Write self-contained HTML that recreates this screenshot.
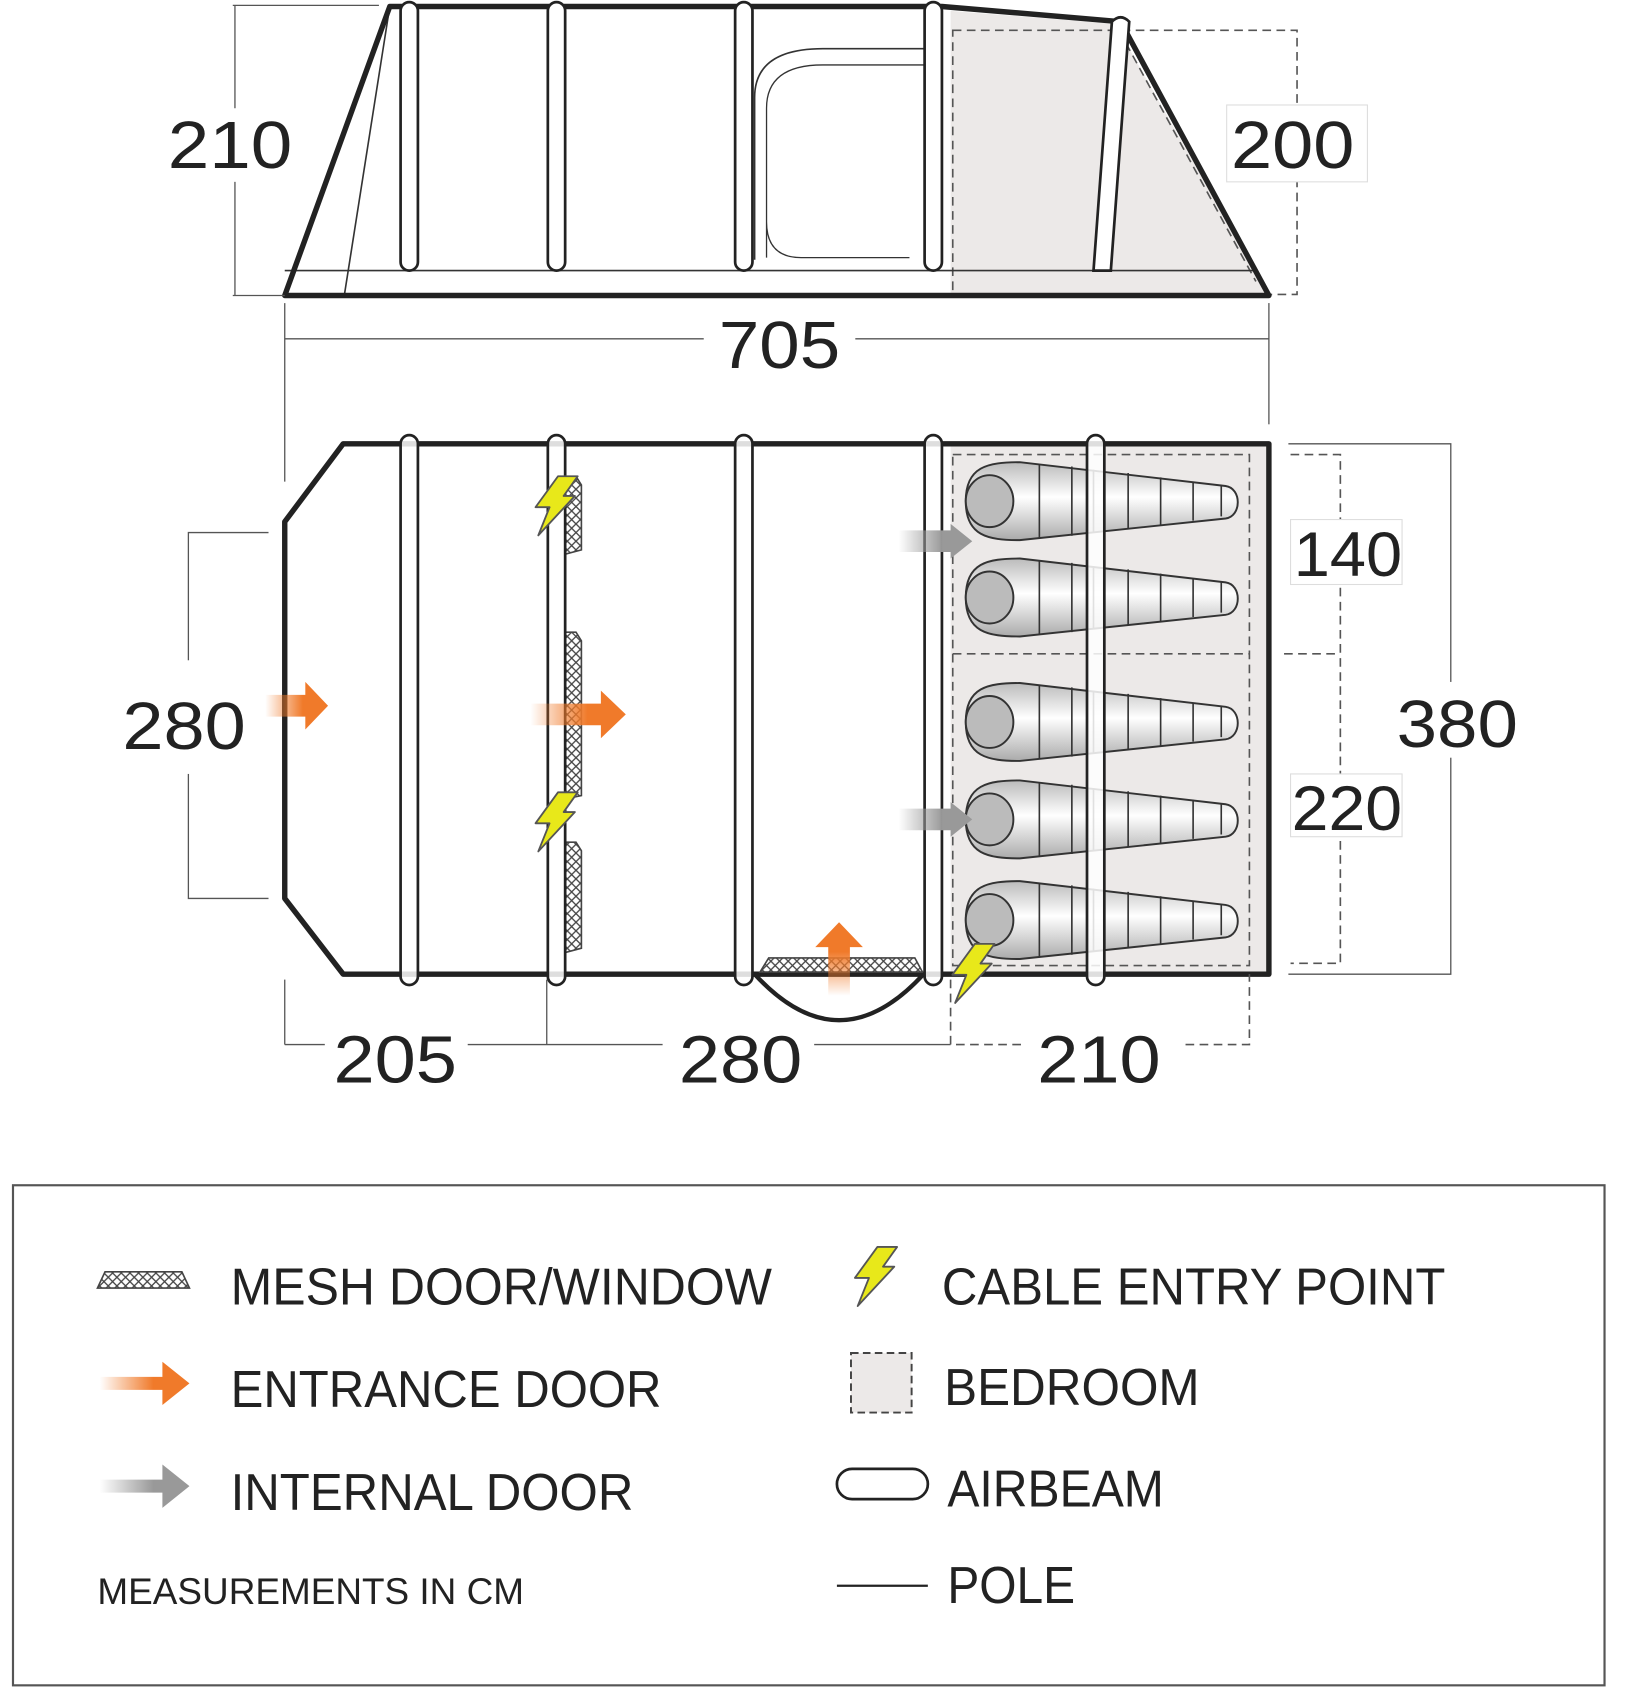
<!DOCTYPE html>
<html><head><meta charset="utf-8"><style>
html,body{margin:0;padding:0;background:#fff}
svg{display:block}
text{font-family:"Liberation Sans",sans-serif;fill:#222}
</style></head><body>
<svg width="1650" height="1694" viewBox="0 0 1524 1565" preserveAspectRatio="none" xmlns="http://www.w3.org/2000/svg">
<defs>
<linearGradient id="og" x1="0" x2="1"><stop offset="0" stop-color="#f07a2a" stop-opacity="0"/><stop offset="0.6" stop-color="#f07a2a"/></linearGradient>
<linearGradient id="gg" x1="0" x2="1"><stop offset="0" stop-color="#999" stop-opacity="0"/><stop offset="0.6" stop-color="#999"/></linearGradient>
<linearGradient id="ogv" x1="0" y1="1" x2="0" y2="0"><stop offset="0" stop-color="#f07a2a" stop-opacity="0"/><stop offset="0.6" stop-color="#f07a2a"/></linearGradient>
<linearGradient id="bag" x1="0" y1="0" x2="0" y2="1"><stop offset="0" stop-color="#bbb"/><stop offset="0.45" stop-color="#fff"/><stop offset="1" stop-color="#aaa"/></linearGradient>
<pattern id="mesh" width="8" height="8" patternUnits="userSpaceOnUse"><rect width="8" height="8" fill="#fff"/><path d="M0 0L8 8M8 0L0 8" stroke="#444" stroke-width="1.2"/></pattern>
<g id="bolt"><path d="M8 0 L22 0 L12 14 L20 14 L-6 42 L2 22 L-8 22 Z" fill="#e8e81a" stroke="#555" stroke-width="1.3" stroke-linejoin="round" transform="scale(1.3)"/></g>
<g id="sb">
<path d="M0 0 C0 -32 20 -36 50 -36 L240 -14 C255 -12 255 14 240 16 L50 36 C20 36 0 32 0 0Z" fill="url(#bag)" stroke="#333" stroke-width="1.8"/>
<ellipse cx="22" cy="0" rx="22" ry="24" fill="#bbb" stroke="#333" stroke-width="1.8"/>
<path d="M68 -34V34M98 -32V32M118 -29V29M150 -26V26M180 -22V22M210 -18V18M236 -14V14" stroke="#333" stroke-width="1.5"/>
</g>
</defs>

<!-- SIDE VIEW -->
<polygon points="878,10 1030,22 1172,273 878,273" fill="#ece9e8"/>
<rect x="880" y="28" width="318" height="244" fill="none" stroke="#555" stroke-width="1.5" stroke-dasharray="8,5"/>
<line x1="1040" y1="40" x2="1160" y2="260" stroke="#555" stroke-width="1.5" stroke-dasharray="8,5"/>
<line x1="360" y1="6" x2="318" y2="273" stroke="#333" stroke-width="1.5"/>
<line x1="263" y1="250" x2="1160" y2="250" stroke="#333" stroke-width="1.5"/>
<path d="M697 240 V90 Q697 45 760 45 H853" fill="none" stroke="#333" stroke-width="1.5"/>
<path d="M708 238 V100 Q708 60 760 60 H853 M708 205 Q708 238 740 238 H840" fill="none" stroke="#333" stroke-width="1.2"/>
<polygon points="263,273 360,6 870,6 1035,20 1172,273" fill="none" stroke="#222" stroke-width="5" stroke-linejoin="round"/>
<g fill="#fff" stroke="#222" stroke-width="2.5">
<rect x="370" y="2" width="16" height="248" rx="8"/>
<rect x="506" y="2" width="16" height="248" rx="8"/>
<rect x="679" y="2" width="16" height="248" rx="8"/>
<rect x="854" y="2" width="16" height="248" rx="8"/>
<path d="M1027 20 Q1035 12 1043 20 L1026 250 L1010 250 Z"/>
</g>
<line x1="215" y1="5" x2="350" y2="5" stroke="#555" stroke-width="1.2"/>
<line x1="215" y1="273" x2="263" y2="273" stroke="#555" stroke-width="1.2"/>
<line x1="217" y1="5" x2="217" y2="100" stroke="#555" stroke-width="1.2"/>
<line x1="217" y1="168" x2="217" y2="273" stroke="#555" stroke-width="1.2"/>
<text x="155" y="155" font-size="62" textLength="115" lengthAdjust="spacingAndGlyphs">210</text>
<rect x="1133" y="97" width="130" height="71" fill="#fff" stroke="#ddd"/>
<text x="1137" y="155" font-size="62" textLength="114" lengthAdjust="spacingAndGlyphs">200</text>
<line x1="263" y1="280" x2="263" y2="445" stroke="#555" stroke-width="1.2"/>
<line x1="1172" y1="280" x2="1172" y2="392" stroke="#555" stroke-width="1.2"/>
<line x1="263" y1="313" x2="650" y2="313" stroke="#555" stroke-width="1.2"/>
<line x1="790" y1="313" x2="1172" y2="313" stroke="#555" stroke-width="1.2"/>
<text x="664" y="340" font-size="62" textLength="112" lengthAdjust="spacingAndGlyphs">705</text>

<!-- PLAN VIEW -->
<rect x="878" y="410" width="294" height="490" fill="#ece9e8"/>
<rect x="880" y="420" width="274" height="472" fill="none" stroke="#555" stroke-width="1.5" stroke-dasharray="8,5"/>
<line x1="880" y1="604" x2="1154" y2="604" stroke="#555" stroke-width="1.5" stroke-dasharray="8,5"/>
<use href="#sb" x="892" y="463"/>
<use href="#sb" x="892" y="552"/>
<use href="#sb" x="892" y="667"/>
<use href="#sb" x="892" y="757"/>
<use href="#sb" x="892" y="850"/>
<path d="M697 900 Q775 985 853 900" fill="none" stroke="#222" stroke-width="4"/>
<polygon points="317,410 1172,410 1172,900 317,900 263,830 263,482" fill="none" stroke="#222" stroke-width="5" stroke-linejoin="round"/>
<g fill="url(#mesh)" stroke="#444" stroke-width="1.5">
<polygon points="522,440 532,440 537,448 537,508 522,512"/>
<polygon points="522,584 532,584 537,592 537,735 522,738"/>
<polygon points="522,778 532,778 537,786 537,876 522,880"/>
<polygon points="702,898 710,885 845,885 852,898"/>
</g>
<g fill="#fff" fill-opacity="0.85" stroke="#222" stroke-width="2.5">
<rect x="370" y="402" width="16" height="508" rx="8"/>
<rect x="506" y="402" width="16" height="508" rx="8"/>
<rect x="679" y="402" width="16" height="508" rx="8"/>
<rect x="854" y="402" width="16" height="508" rx="8"/>
<rect x="1004" y="402" width="16" height="508" rx="8"/>
</g>
<!-- arrows -->
<path d="M245 642 H282 V630 L303 652 L282 674 V662 H245Z" fill="url(#og)"/>
<path d="M490 650 H555 V638 L578 660 L555 682 V670 H490Z" fill="url(#og)"/>
<path d="M765 920 V875 H753 L775 852 L797 875 H785 V920Z" fill="url(#ogv)"/>
<path d="M830 490 H878 V484 L898 500 L878 516 V510 H830Z" fill="url(#gg)"/>
<path d="M830 747 H878 V741 L898 757 L878 773 V767 H830Z" fill="url(#gg)"/>
<use href="#bolt" x="505" y="440"/>
<use href="#bolt" x="505" y="732"/>
<use href="#bolt" x="890" y="872"/>
<!-- dims -->
<path d="M248 492 H174 V830 H248" fill="none" stroke="#555" stroke-width="1.2"/>
<rect x="150" y="610" width="60" height="105" fill="#fff"/>
<text x="113" y="692" font-size="62" textLength="114" lengthAdjust="spacingAndGlyphs">280</text>
<path d="M1192 420 H1238 V890 H1192 M1186 604 H1238" fill="none" stroke="#555" stroke-width="1.5" stroke-dasharray="8,5"/>
<path d="M1190 410 H1340 V900 H1190" fill="none" stroke="#555" stroke-width="1.2"/>
<rect x="1192" y="480" width="103" height="60" fill="#fff" stroke="#ddd"/>
<text x="1195" y="532" font-size="58" textLength="100" lengthAdjust="spacingAndGlyphs">140</text>
<rect x="1192" y="715" width="103" height="58" fill="#fff" stroke="#ddd"/>
<text x="1193" y="767" font-size="58" textLength="102" lengthAdjust="spacingAndGlyphs">220</text>
<rect x="1300" y="630" width="90" height="70" fill="#fff"/>
<text x="1290" y="690" font-size="62" textLength="112" lengthAdjust="spacingAndGlyphs">380</text>
<line x1="263" y1="905" x2="263" y2="965" stroke="#555" stroke-width="1.2"/>
<line x1="505" y1="905" x2="505" y2="965" stroke="#555" stroke-width="1.2"/>
<line x1="263" y1="965" x2="300" y2="965" stroke="#555" stroke-width="1.2"/>
<line x1="432" y1="965" x2="612" y2="965" stroke="#555" stroke-width="1.2"/>
<line x1="752" y1="965" x2="878" y2="965" stroke="#555" stroke-width="1.2"/>
<path d="M878 905 V965 H945 M1095 965 H1154 V900" fill="none" stroke="#555" stroke-width="1.5" stroke-dasharray="8,5"/>
<text x="308" y="1000" font-size="62" textLength="114" lengthAdjust="spacingAndGlyphs">205</text>
<text x="627" y="1000" font-size="62" textLength="114" lengthAdjust="spacingAndGlyphs">280</text>
<text x="958" y="1000" font-size="62" textLength="114" lengthAdjust="spacingAndGlyphs">210</text>

<!-- LEGEND -->
<rect x="12" y="1095" width="1470" height="462" fill="none" stroke="#555" stroke-width="2"/>
<polygon points="90,1190 97,1175 168,1175 175,1190" fill="url(#mesh)" stroke="#444" stroke-width="1.5"/>
<text x="213" y="1205" font-size="48" textLength="500" lengthAdjust="spacingAndGlyphs">MESH DOOR/WINDOW</text>
<path d="M92 1272 H150 V1258 L175 1278 L150 1298 V1284 H92Z" fill="url(#og)"/>
<text x="213" y="1300" font-size="48" textLength="398" lengthAdjust="spacingAndGlyphs">ENTRANCE DOOR</text>
<path d="M92 1367 H150 V1353 L175 1373 L150 1393 V1379 H92Z" fill="url(#gg)"/>
<text x="213" y="1395" font-size="48" textLength="372" lengthAdjust="spacingAndGlyphs">INTERNAL DOOR</text>
<text x="90" y="1482" font-size="34" textLength="394" lengthAdjust="spacingAndGlyphs">MEASUREMENTS IN CM</text>
<use href="#bolt" x="800" y="1152"/>
<text x="870" y="1205" font-size="48" textLength="465" lengthAdjust="spacingAndGlyphs">CABLE ENTRY POINT</text>
<rect x="786" y="1250" width="56" height="55" fill="#ece9e8" stroke="#444" stroke-width="1.8" stroke-dasharray="7,4"/>
<text x="872" y="1298" font-size="48" textLength="236" lengthAdjust="spacingAndGlyphs">BEDROOM</text>
<rect x="773" y="1357" width="84" height="28" rx="14" fill="#fff" stroke="#222" stroke-width="2.5"/>
<text x="875" y="1392" font-size="48" textLength="200" lengthAdjust="spacingAndGlyphs">AIRBEAM</text>
<line x1="773" y1="1465" x2="857" y2="1465" stroke="#222" stroke-width="2"/>
<text x="875" y="1481" font-size="48" textLength="118" lengthAdjust="spacingAndGlyphs">POLE</text>
</svg>
</body></html>
